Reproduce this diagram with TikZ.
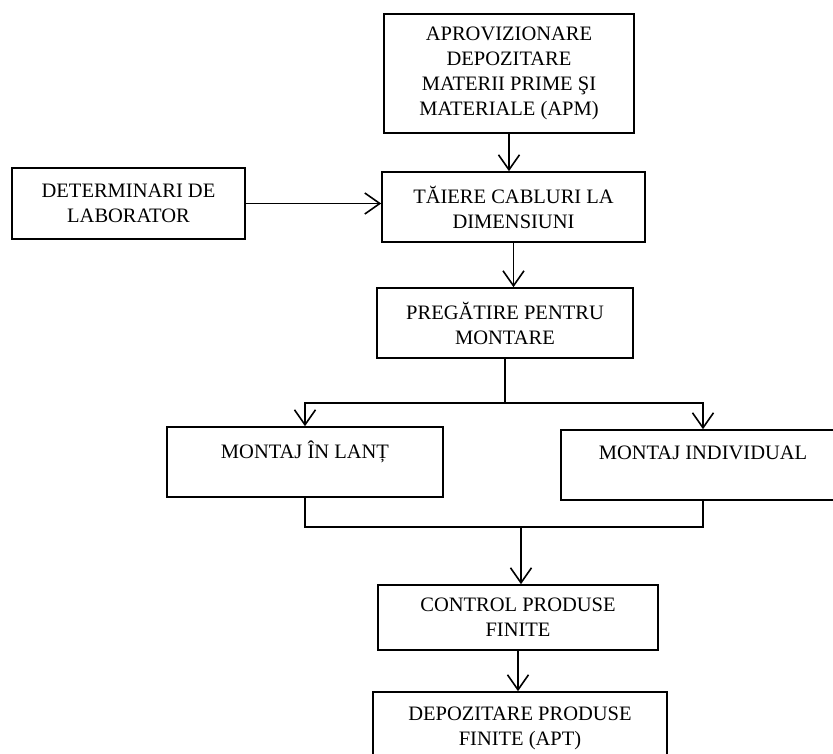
\documentclass[tikz,border=0pt]{standalone}
\usepackage{fontspec}
\setmainfont{Liberation Serif}
\usetikzlibrary{arrows.meta}

\begin{document}
\begin{tikzpicture}[x=1pt,y=-1pt,line width=1.6pt,
                    flow/.style={-{Straight Barb[length=15pt,width=21pt,line width=1.6pt]}},
                    stage node/.style={draw,align=center,inner sep=0pt,
                      font=\fontsize{20.5}{25}\selectfont}]

        \clip (0,0) rectangle (833,754);

        % Define stages
        \node[stage node,minimum width=250pt,minimum height=119pt] (apm) at (509,73.5)
            {APROVIZIONARE\\DEPOZITARE\\MATERII PRIME ŞI\\MATERIALE (APM)};
        \node[stage node,minimum width=263pt,minimum height=70pt] (taiere) at (513.5,207)
            {TĂIERE CABLURI LA\\DIMENSIUNI};
        \node[stage node,minimum width=233pt,minimum height=71pt] (determ) at (128.5,203.5)
            {DETERMINARI DE\\LABORATOR};
        \node[stage node,minimum width=256pt,minimum height=70pt] (pregatire) at (505,323)
            {PREGĂTIRE PENTRU\\MONTARE};
        \node[stage node,minimum width=276pt,minimum height=70pt] (lant) at (305,462)
            {MONTAJ ÎN LANȚ\\\mbox{}};
        \node[stage node,minimum width=284pt,minimum height=70pt] (indiv) at (703,465)
            {MONTAJ INDIVIDUAL\\\mbox{}};
        \node[stage node,minimum width=280pt,minimum height=65pt] (control) at (518,617.5)
            {CONTROL PRODUSE\\FINITE};
        \node[stage node,minimum width=294pt,minimum height=72pt] (depoz) at (520,728)
            {DEPOZITARE PRODUSE\\FINITE (APT)};

        \coordinate (split) at (505,403);
        \coordinate (merge) at (521,527);

        % Draw arrows
        \draw[flow] (apm.south) -- (apm.south |- taiere.north);
        \draw[flow] (determ.east) -- (determ.east -| taiere.west);
        \draw[flow] (taiere.south) -- (taiere.south |- pregatire.north);
        \draw (pregatire.south) -- (split);
        \draw[flow] (split) -| (lant.north);
        \draw[flow] (split) -| (indiv.north);
        \draw (lant.south) |- (indiv.south |- merge) -- (indiv.south);
        \draw[flow] (merge) -- (merge |- control.north);
        \draw[flow] (control.south) -- (control.south |- depoz.north);

\end{tikzpicture}
\end{document}
